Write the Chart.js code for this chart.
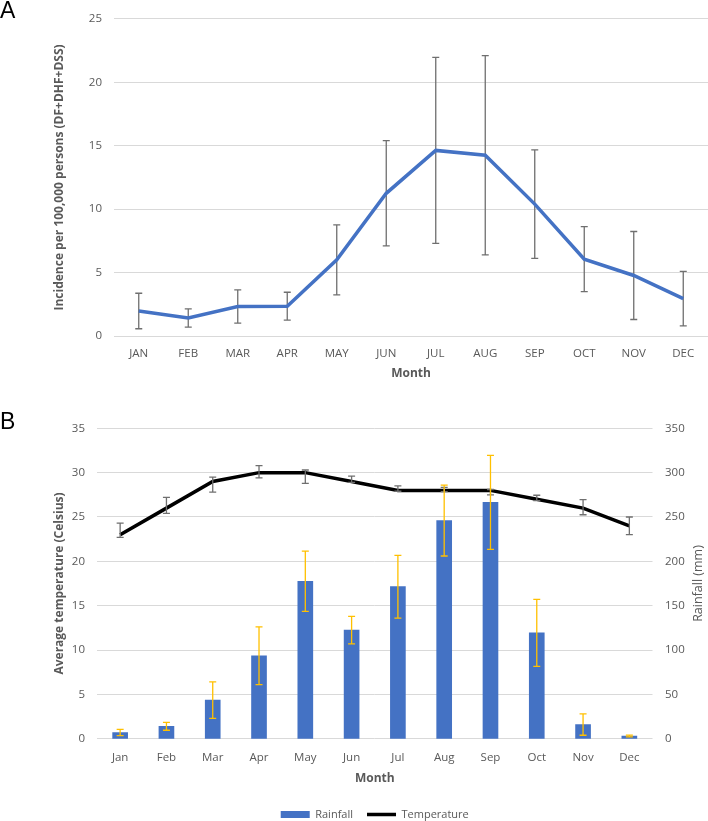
<!DOCTYPE html>
<html>
<head>
<meta charset="utf-8">
<script src="https://cdn.jsdelivr.net/npm/chart.js@4.4.1/dist/chart.umd.min.js"></script>
<style>
  body { margin: 0; background: #fff; overflow: hidden; }
  #wrap { position: relative; width: 708px; height: 821px; overflow: hidden; }
  .panel { position: absolute; left: 0; width: 708px; }
  .tag { position: absolute; left: 0; font: 23px "Liberation Sans", Arial, sans-serif; line-height: 1; color: #000; }
</style>
</head>
<body>
<div id="wrap">
  <div class="panel" style="top:0;height:385px"><canvas id="chartA"></canvas></div>
  <div class="panel" style="top:385px;height:445px"><canvas id="chartB"></canvas></div>
  <div class="tag" style="top:-1px">A</div>
  <div class="tag" style="top:410px">B</div>
</div>
<script>
// ---- data ----
const MONTHS_UP = ["JAN", "FEB", "MAR", "APR", "MAY", "JUN", "JUL", "AUG", "SEP", "OCT", "NOV", "DEC"];
const MONTHS = ["Jan", "Feb", "Mar", "Apr", "May", "Jun", "Jul", "Aug", "Sep", "Oct", "Nov", "Dec"];

// panel A: incidence per 100,000 and its error
const incidence = [1.97, 1.42, 2.32, 2.35, 6.0, 11.25, 14.63, 14.25, 10.4, 6.06, 4.77, 2.95];
const incidenceErr = [1.4, 0.72, 1.31, 1.1, 2.76, 4.15, 7.33, 7.86, 4.28, 2.56, 3.47, 2.15];

// panel B: rainfall (mm) and temperature (Celsius)
const rainfall = [7, 14, 43.5, 93.5, 177.5, 122.5, 171.4, 246, 266.5, 119.3, 15.9, 3];
const rainfallErr = [3.5, 4.5, 20.5, 32.5, 34, 15.5, 35.4, 40, 53, 37.7, 12, 1];
const temperature = [23, 26, 29, 30, 30, 29, 28, 28, 28, 27, 26, 24];
const tempErrUp = [1.3, 1.2, 0.5, 0.8, 0.3, 0.6, 0.5, 0.35, 0.1, 0.45, 0.95, 1.0];
const tempErrDown = [0.3, 0.6, 1.2, 0.6, 1.2, 0.1, 0.1, 0.15, 0.5, 0.15, 0.75, 1.0];

const TXT = "#595959";
const GRID = "#d9d9d9";
const BLUE = "#4472C4";
const FONT = "'Open Sans', sans-serif";

// draws the error bars of a dataset using its own y scale
function drawErr(chart, i) {
  const ds = chart.data.datasets[i];
  if (!ds.errUp) return;
  const meta = chart.getDatasetMeta(i);
  const ys = chart.scales[meta.yAxisID];
  const ctx = chart.ctx;
  const c = ds.errCap / 2;
  ctx.save();
  ctx.strokeStyle = ds.errColor;
  ctx.lineWidth = ds.errWidth;
  meta.data.forEach((el, j) => {
    const v = ds.data[j];
    const top = ys.getPixelForValue(v + ds.errUp[j]);
    const bot = ys.getPixelForValue(v - ds.errDown[j]);
    ctx.beginPath();
    ctx.moveTo(el.x, top); ctx.lineTo(el.x, bot);
    ctx.moveTo(el.x - c, top); ctx.lineTo(el.x + c, top);
    ctx.moveTo(el.x - c, bot); ctx.lineTo(el.x + c, bot);
    ctx.stroke();
  });
  ctx.restore();
}

const errorBars = {
  id: "errorBars",
  beforeDatasetDraw(chart, args) {
    if (!chart.data.datasets[args.index].errOnTop) drawErr(chart, args.index);
  },
  afterDatasetDraw(chart, args) {
    if (chart.data.datasets[args.index].errOnTop) drawErr(chart, args.index);
  }
};

// right axis title reads bottom to top, like the left one
const rightTitle = {
  id: "rightTitle",
  afterDraw(chart) {
    const ctx = chart.ctx;
    const a = chart.chartArea;
    ctx.save();
    ctx.translate(698, (a.top + a.bottom) / 2);
    ctx.rotate(-Math.PI / 2);
    ctx.font = "12.5px " + FONT;
    ctx.fillStyle = TXT;
    ctx.textAlign = "center";
    ctx.textBaseline = "middle";
    ctx.fillText("Rainfall (mm)", 0, 0);
    ctx.restore();
  }
};

const tickFont = { family: FONT, size: 11.5 };
const titleFont = { family: FONT, size: 12, weight: "bold" };

// ---- panel A ----
new Chart(document.getElementById("chartA"), {
  type: "line",
  data: {
    labels: MONTHS_UP,
    datasets: [{
      data: incidence,
      borderColor: BLUE,
      borderWidth: 3.5,
      pointRadius: 0,
      tension: 0,
      errUp: incidenceErr,
      errDown: incidenceErr,
      errColor: "#6f6f6f",
      errWidth: 1.3,
      errCap: 7,
      errOnTop: false
    }]
  },
  options: {
    responsive: true,
    maintainAspectRatio: false,
    animation: false,
    devicePixelRatio: 1,
    layout: { padding: { top: 15, left: 0, right: 0, bottom: 0 } },
    plugins: { legend: { display: false }, tooltip: { enabled: false } },
    scales: {
      x: {
        offset: true,
        grid: { display: false },
        border: { display: false },
        ticks: { color: TXT, font: tickFont, padding: 3 },
        title: { display: true, text: "Month", color: TXT, font: titleFont, padding: { top: 0, bottom: 4 } },
        afterFit(s) { s.height = 49; }
      },
      y: {
        min: 0,
        max: 25,
        ticks: { stepSize: 5, color: TXT, font: tickFont, padding: 12 },
        grid: { color: GRID, drawTicks: false, lineWidth: 1 },
        border: { display: false },
        title: { display: true, text: "Incidence per 100,000 persons (DF+DHF+DSS)", color: TXT, font: titleFont, padding: { top: 52.8, bottom: 0 } },
        afterFit(s) { s.width = 114; }
      }
    }
  },
  plugins: [errorBars]
});

// ---- panel B ----
const LEG_PAD = 14;
new Chart(document.getElementById("chartB"), {
  type: "bar",
  data: {
    labels: MONTHS,
    datasets: [{
      type: "bar",
      label: "Rainfall",
      data: rainfall,
      yAxisID: "y1",
      backgroundColor: BLUE,
      barThickness: 15,
      errUp: rainfallErr,
      errDown: rainfallErr,
      errColor: "#FFC000",
      errWidth: 1.3,
      errCap: 7,
      errOnTop: true
    }, {
      type: "line",
      label: "Temperature",
      data: temperature,
      yAxisID: "y",
      borderColor: "#000",
      backgroundColor: "#000",
      borderWidth: 3.5,
      pointRadius: 0,
      tension: 0,
      errUp: tempErrUp,
      errDown: tempErrDown,
      errColor: "#6f6f6f",
      errWidth: 1.3,
      errCap: 7,
      errOnTop: true
    }]
  },
  options: {
    responsive: true,
    maintainAspectRatio: false,
    animation: false,
    devicePixelRatio: 1,
    layout: { padding: { top: 43.3, left: 0, right: 0, bottom: 0 } },
    plugins: {
      tooltip: { enabled: false },
      legend: {
        position: "bottom",
        fullSize: false,
        labels: {
          color: TXT,
          font: { family: FONT, size: 11 },
          usePointStyle: true,
          pointStyleWidth: 29,
          boxHeight: 7,
          padding: LEG_PAD,
          generateLabels(chart) {
            const items = Chart.defaults.plugins.legend.labels.generateLabels(chart);
            items[0].pointStyle = "rect";
            items[0].fillStyle = BLUE;
            items[0].lineWidth = 0;
            items[1].pointStyle = "line";
            items[1].strokeStyle = "#000";
            items[1].lineWidth = 3.5;
            return items;
          }
        }
      }
    },
    scales: {
      x: {
        offset: true,
        grid: { display: false },
        border: { display: false },
        ticks: { color: TXT, font: tickFont, padding: 4 },
        title: { display: true, text: "Month", color: TXT, font: titleFont, padding: { top: 0, bottom: 9 } },
        afterFit(s) { s.height = 445 - 353.7 - (21 + LEG_PAD); }
      },
      y: {
        position: "left",
        min: 0,
        max: 35,
        ticks: { stepSize: 5, color: TXT, font: tickFont, padding: 12 },
        grid: { color: GRID, drawTicks: false },
        border: { display: false },
        title: { display: true, text: "Average temperature (Celsius)", color: TXT, font: titleFont, padding: { top: 52.8, bottom: 0 } },
        afterFit(s) { s.width = 97; }
      },
      y1: {
        position: "right",
        min: 0,
        max: 350,
        ticks: { stepSize: 50, color: TXT, font: tickFont, padding: 12.5 },
        grid: { display: false, drawTicks: false },
        border: { display: false },
        afterFit(s) { s.width = 55.5; }
      }
    }
  },
  plugins: [errorBars, rightTitle]
});
</script>
</body>
</html>
